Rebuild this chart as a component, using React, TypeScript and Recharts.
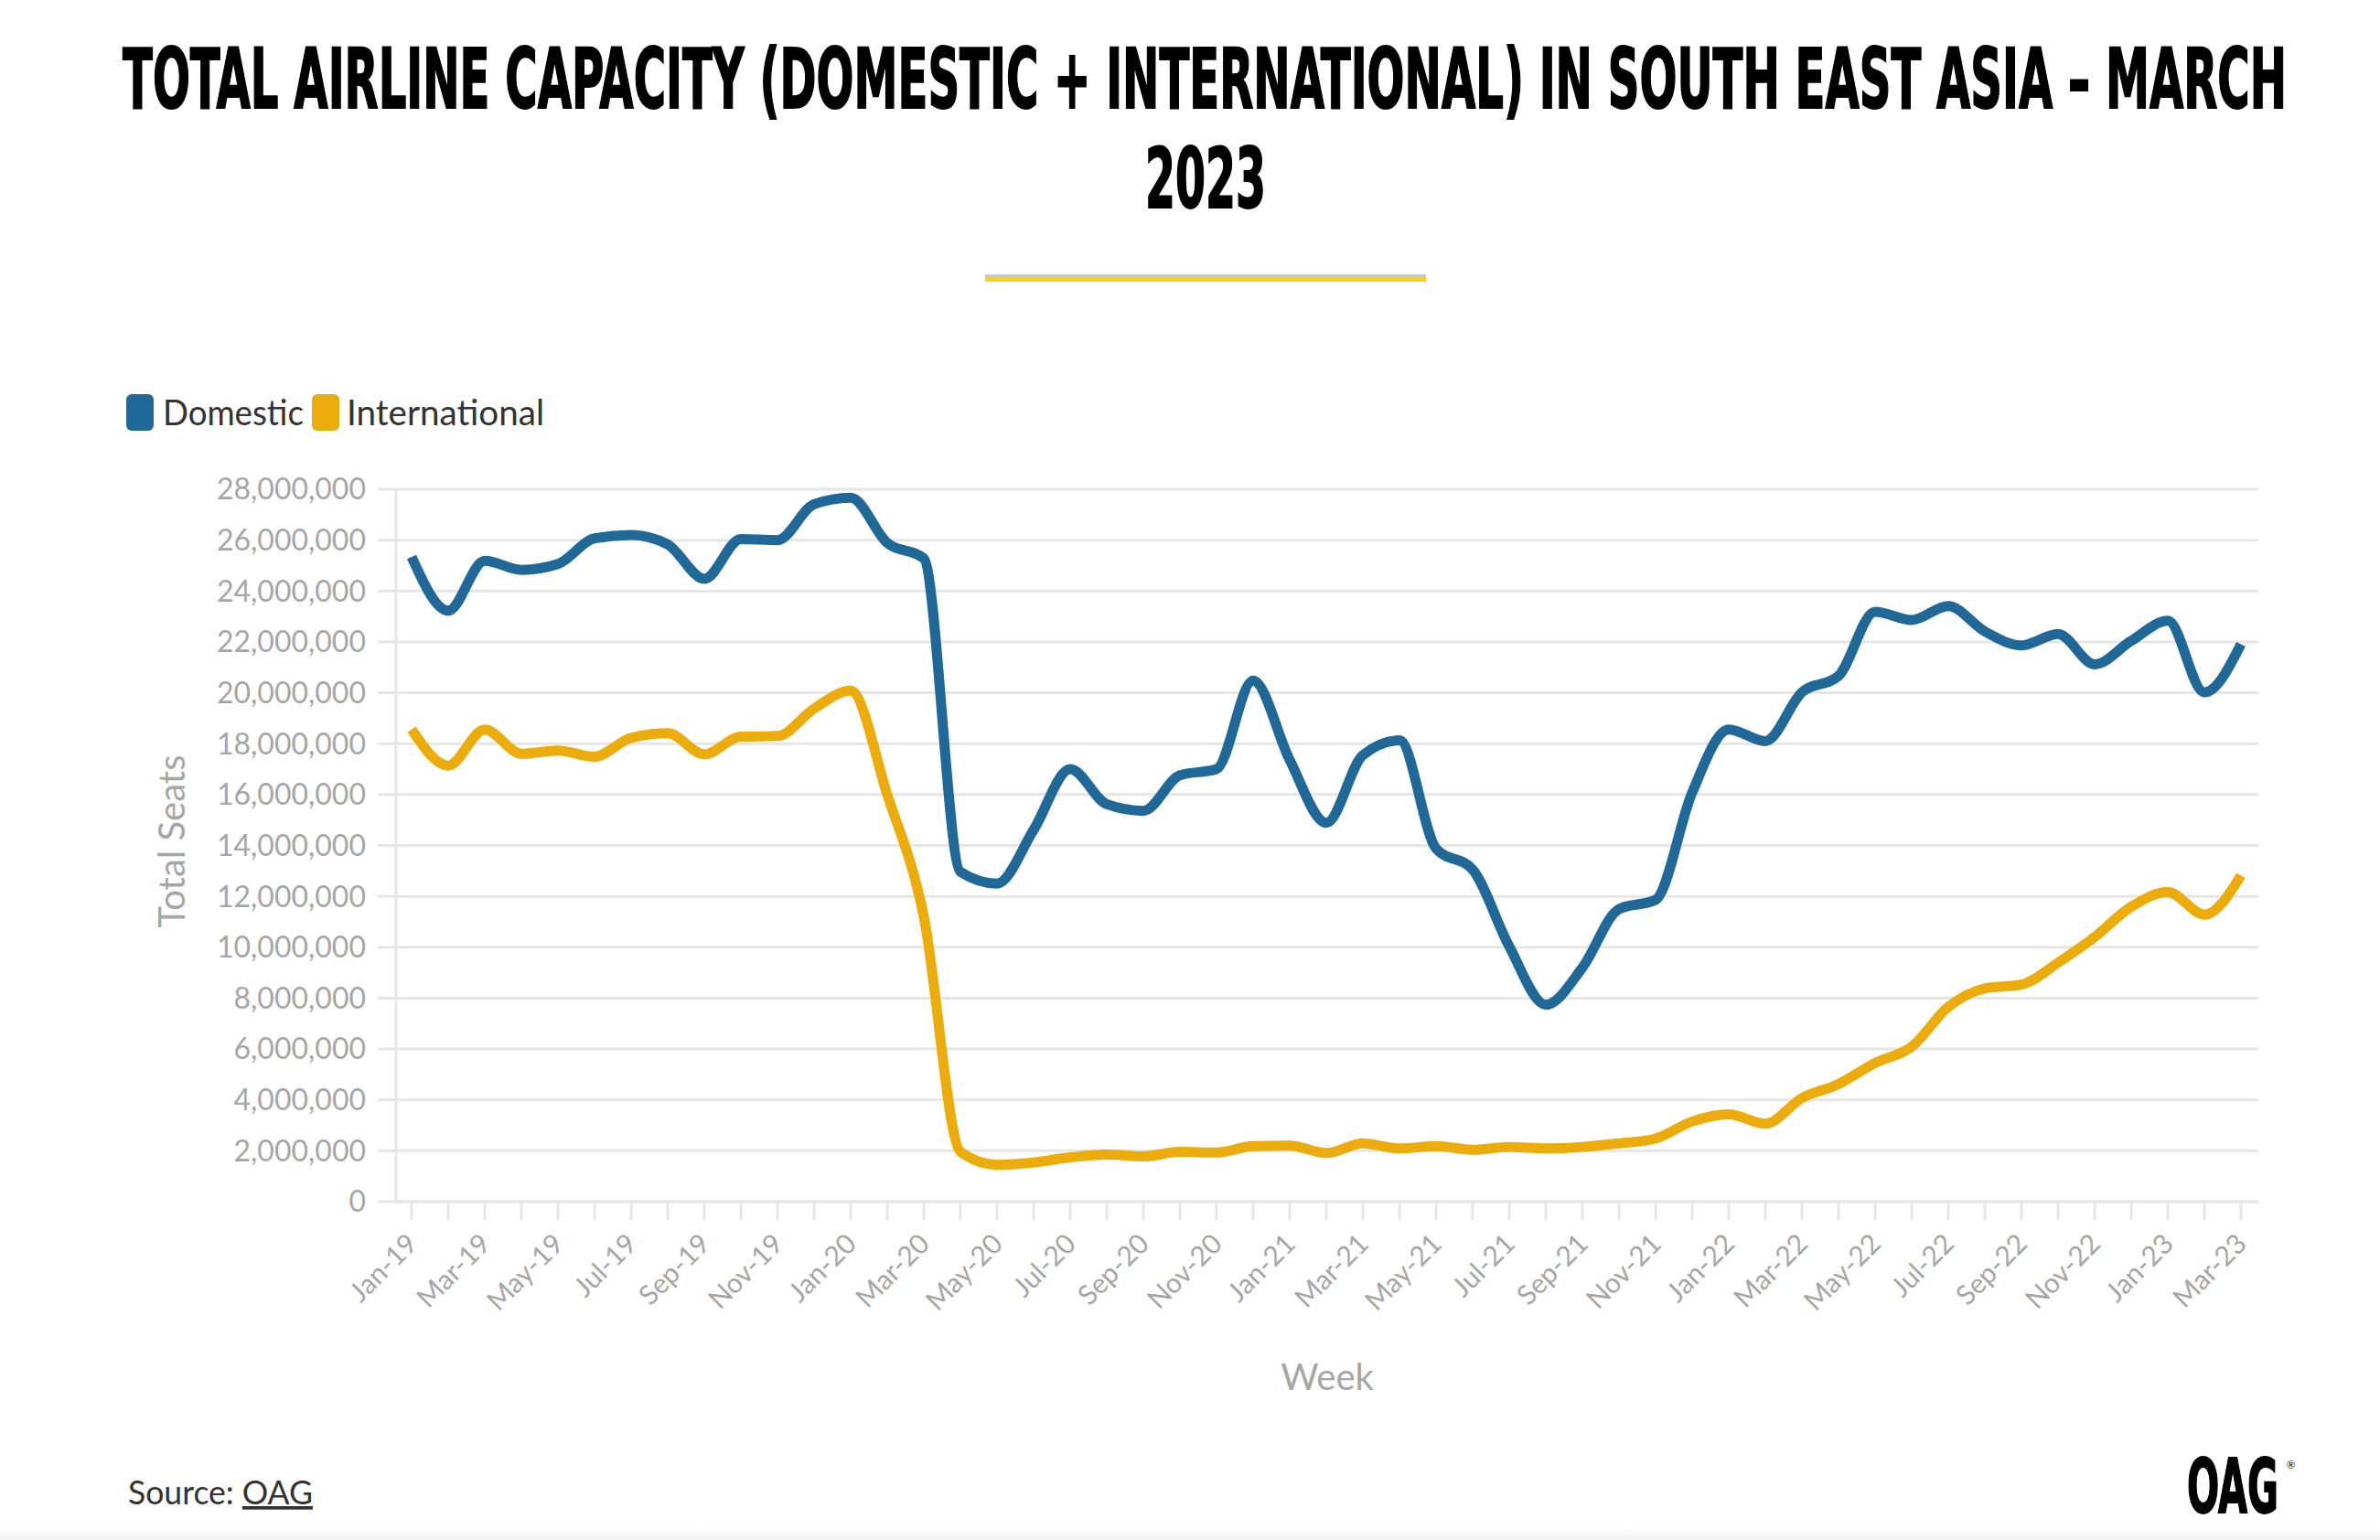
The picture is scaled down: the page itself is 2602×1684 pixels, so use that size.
import { LineChart, Line, XAxis, YAxis, CartesianGrid } from 'recharts'

const months = [
  'Jan-19', 'Feb-19', 'Mar-19', 'Apr-19', 'May-19', 'Jun-19', 'Jul-19', 'Aug-19', 'Sep-19', 'Oct-19', 'Nov-19', 'Dec-19',
  'Jan-20', 'Feb-20', 'Mar-20', 'Apr-20', 'May-20', 'Jun-20', 'Jul-20', 'Aug-20', 'Sep-20', 'Oct-20', 'Nov-20', 'Dec-20',
  'Jan-21', 'Feb-21', 'Mar-21', 'Apr-21', 'May-21', 'Jun-21', 'Jul-21', 'Aug-21', 'Sep-21', 'Oct-21', 'Nov-21', 'Dec-21',
  'Jan-22', 'Feb-22', 'Mar-22', 'Apr-22', 'May-22', 'Jun-22', 'Jul-22', 'Aug-22', 'Sep-22', 'Oct-22', 'Nov-22', 'Dec-22',
  'Jan-23', 'Feb-23', 'Mar-23',
]

// seats, millions
const domestic = [
  25.34, 23.23, 25.19, 24.83, 25.06, 26.07, 26.2, 25.83, 24.48, 26.04, 26.0, 27.41,
  27.67, 25.89, 25.28, 12.96, 12.5, 14.61, 17.0, 15.62, 15.36, 16.76, 17.0, 20.48,
  17.36, 14.89, 17.55, 18.13, 13.88, 13.05, 10.03, 7.74, 9.2, 11.5, 11.86, 16.08,
  18.56, 18.1, 20.02, 20.66, 23.18, 22.86, 23.41, 22.41, 21.86, 22.31, 21.12, 22.04,
  22.83, 20.02, 21.91,
]

const international = [
  18.56, 17.14, 18.56, 17.6, 17.73, 17.49, 18.23, 18.41, 17.58, 18.28, 18.3, 19.38,
  20.08, 16.0, 11.2, 1.96, 1.45, 1.54, 1.74, 1.85, 1.78, 1.96, 1.93, 2.18,
  2.2, 1.91, 2.29, 2.09, 2.18, 2.04, 2.15, 2.09, 2.15, 2.29, 2.48, 3.15,
  3.43, 3.06, 4.07, 4.62, 5.45, 6.09, 7.65, 8.38, 8.53, 9.39, 10.4, 11.59,
  12.17, 11.28, 12.82,
]

const yTicks = [0, 2, 4, 6, 8, 10, 12, 14, 16, 18, 20, 22, 24, 26, 28]

const BLUE = '#1f6898'
const GOLD = '#ecad0c'
const GRID = '#e6e6e6'
const MUTED = '#a6a6a6'
const SANS = 'Lato, "Noto Sans", sans-serif'
const NARROW = '"Liberation Sans Narrow", "DejaVu Sans Condensed", "Liberation Sans", sans-serif'

const data = months.map((m, i) => ({
  month: m,
  domestic: domestic[i],
  international: international[i],
}))

const fmtSeats = (v: number) => (v * 1000000).toLocaleString('en-US')

function MonthTick(props: any) {
  const { x, y, payload } = props
  const idx = props.index ?? payload.index
  if (idx % 2 !== 0) return <g />
  const ax = x + 8
  const ay = y + 26
  return (
    <text
      x={ax}
      y={ay}
      transform={`rotate(-45, ${ax}, ${ay})`}
      textAnchor="end"
      fill={MUTED}
      fontSize={30}
      fontFamily={SANS}
    >
      {payload.value}
    </text>
  )
}

// condensed headline: narrow bold face stretched vertically
function Condensed({ x, y, width, size, stretch, children }: {
  x: number; y: number; width: number; size: number; stretch: number; children: string
}) {
  return (
    <g transform={`translate(${x}, ${y}) scale(1, ${stretch})`}>
      <text
        x={0}
        y={0}
        fontFamily={NARROW}
        fontWeight={700}
        fontSize={size}
        textLength={width}
        lengthAdjust="spacingAndGlyphs"
        fill="#000"
        stroke="#000"
        strokeWidth={1}
      >
        {children}
      </text>
    </g>
  )
}

function Overlay() {
  return (
    <svg
      width={2602}
      height={1684}
      style={{ position: 'absolute', left: 0, top: 0, pointerEvents: 'none' }}
    >
      <defs>
        <linearGradient id="foot" x1="0" y1="0" x2="0" y2="1">
          <stop offset="0" stopColor="#ffffff" />
          <stop offset="1" stopColor="#f2f2f2" />
        </linearGradient>
      </defs>

      {/* title */}
      <Condensed x={134} y={118} width={2366} size={50} stretch={1.82}>
        TOTAL AIRLINE CAPACITY (DOMESTIC + INTERNATIONAL) IN SOUTH EAST ASIA – MARCH
      </Condensed>
      <Condensed x={1252} y={227} width={132} size={50} stretch={1.82}>
        2023
      </Condensed>
      <rect x={1077} y={300} width={482} height={4} fill="#c8c8c8" />
      <rect x={1077} y={304} width={482} height={4} fill="#fcd116" />

      {/* legend */}
      <rect x={138} y={431} width={30} height={40} rx={6} fill={BLUE} />
      <text x={178} y={465} fontFamily={SANS} fontSize={38} fill="#333" textLength={154} lengthAdjust="spacingAndGlyphs">
        Domestic
      </text>
      <rect x={341} y={431} width={30} height={40} rx={6} fill={GOLD} />
      <text x={379} y={465} fontFamily={SANS} fontSize={38} fill="#333" textLength={216} lengthAdjust="spacingAndGlyphs">
        International
      </text>

      {/* axis titles */}
      <text
        transform="translate(202, 920) rotate(-90)"
        textAnchor="middle"
        fontFamily={SANS}
        fontSize={40}
        fill={MUTED}
      >
        Total Seats
      </text>
      <text x={1451} y={1520} textAnchor="middle" fontFamily={SANS} fontSize={40} fill={MUTED}>
        Week
      </text>

      {/* footer */}
      <text x={140} y={1645} fontFamily={SANS} fontSize={37} fill="#333" textLength={202} lengthAdjust="spacingAndGlyphs">
        Source: <tspan textDecoration="underline">OAG</tspan>
      </text>
      <Condensed x={2391} y={1654} width={100} size={46} stretch={1.79}>
        OAG
      </Condensed>
      <text x={2500} y={1606} fontFamily={SANS} fontSize={11} fill="#000">®</text>
      <rect x={0} y={1670} width={2602} height={14} fill="url(#foot)" />
    </svg>
  )
}

export default function App() {
  return (
    <div style={{ position: 'absolute', left: 0, top: 0, width: 2602, height: 1684, background: '#fff' }}>
      <div style={{ position: 'absolute', left: 0, top: 0 }}>
        <LineChart
          width={2602}
          height={1684}
          data={data}
          margin={{ top: 535, right: 133, bottom: 250, left: 0 }}
        >
          <CartesianGrid vertical={false} stroke={GRID} strokeWidth={3} />
          <XAxis
            dataKey="month"
            interval={0}
            height={120}
            padding={{ left: 17, right: 19 }}
            tickSize={20}
            tickMargin={2}
            axisLine={{ stroke: GRID, strokeWidth: 3 }}
            tickLine={{ stroke: GRID, strokeWidth: 3 }}
            tick={<MonthTick />}
          />
          <YAxis
            width={433}
            domain={[0, 28]}
            ticks={yTicks}
            interval={0}
            tickSize={20}
            tickMargin={13}
            tickFormatter={fmtSeats}
            axisLine={{ stroke: GRID, strokeWidth: 3 }}
            tickLine={{ stroke: GRID, strokeWidth: 3 }}
            tick={{ fill: MUTED, fontSize: 32, fontFamily: SANS }}
          />
          <Line
            type="monotone"
            dataKey="domestic"
            stroke={BLUE}
            strokeWidth={11}
            dot={false}
            activeDot={false}
            strokeLinejoin="round"
            isAnimationActive={false}
          />
          <Line
            type="monotone"
            dataKey="international"
            stroke={GOLD}
            strokeWidth={11}
            dot={false}
            activeDot={false}
            strokeLinejoin="round"
            isAnimationActive={false}
          />
        </LineChart>
      </div>
      <Overlay />
    </div>
  )
}
